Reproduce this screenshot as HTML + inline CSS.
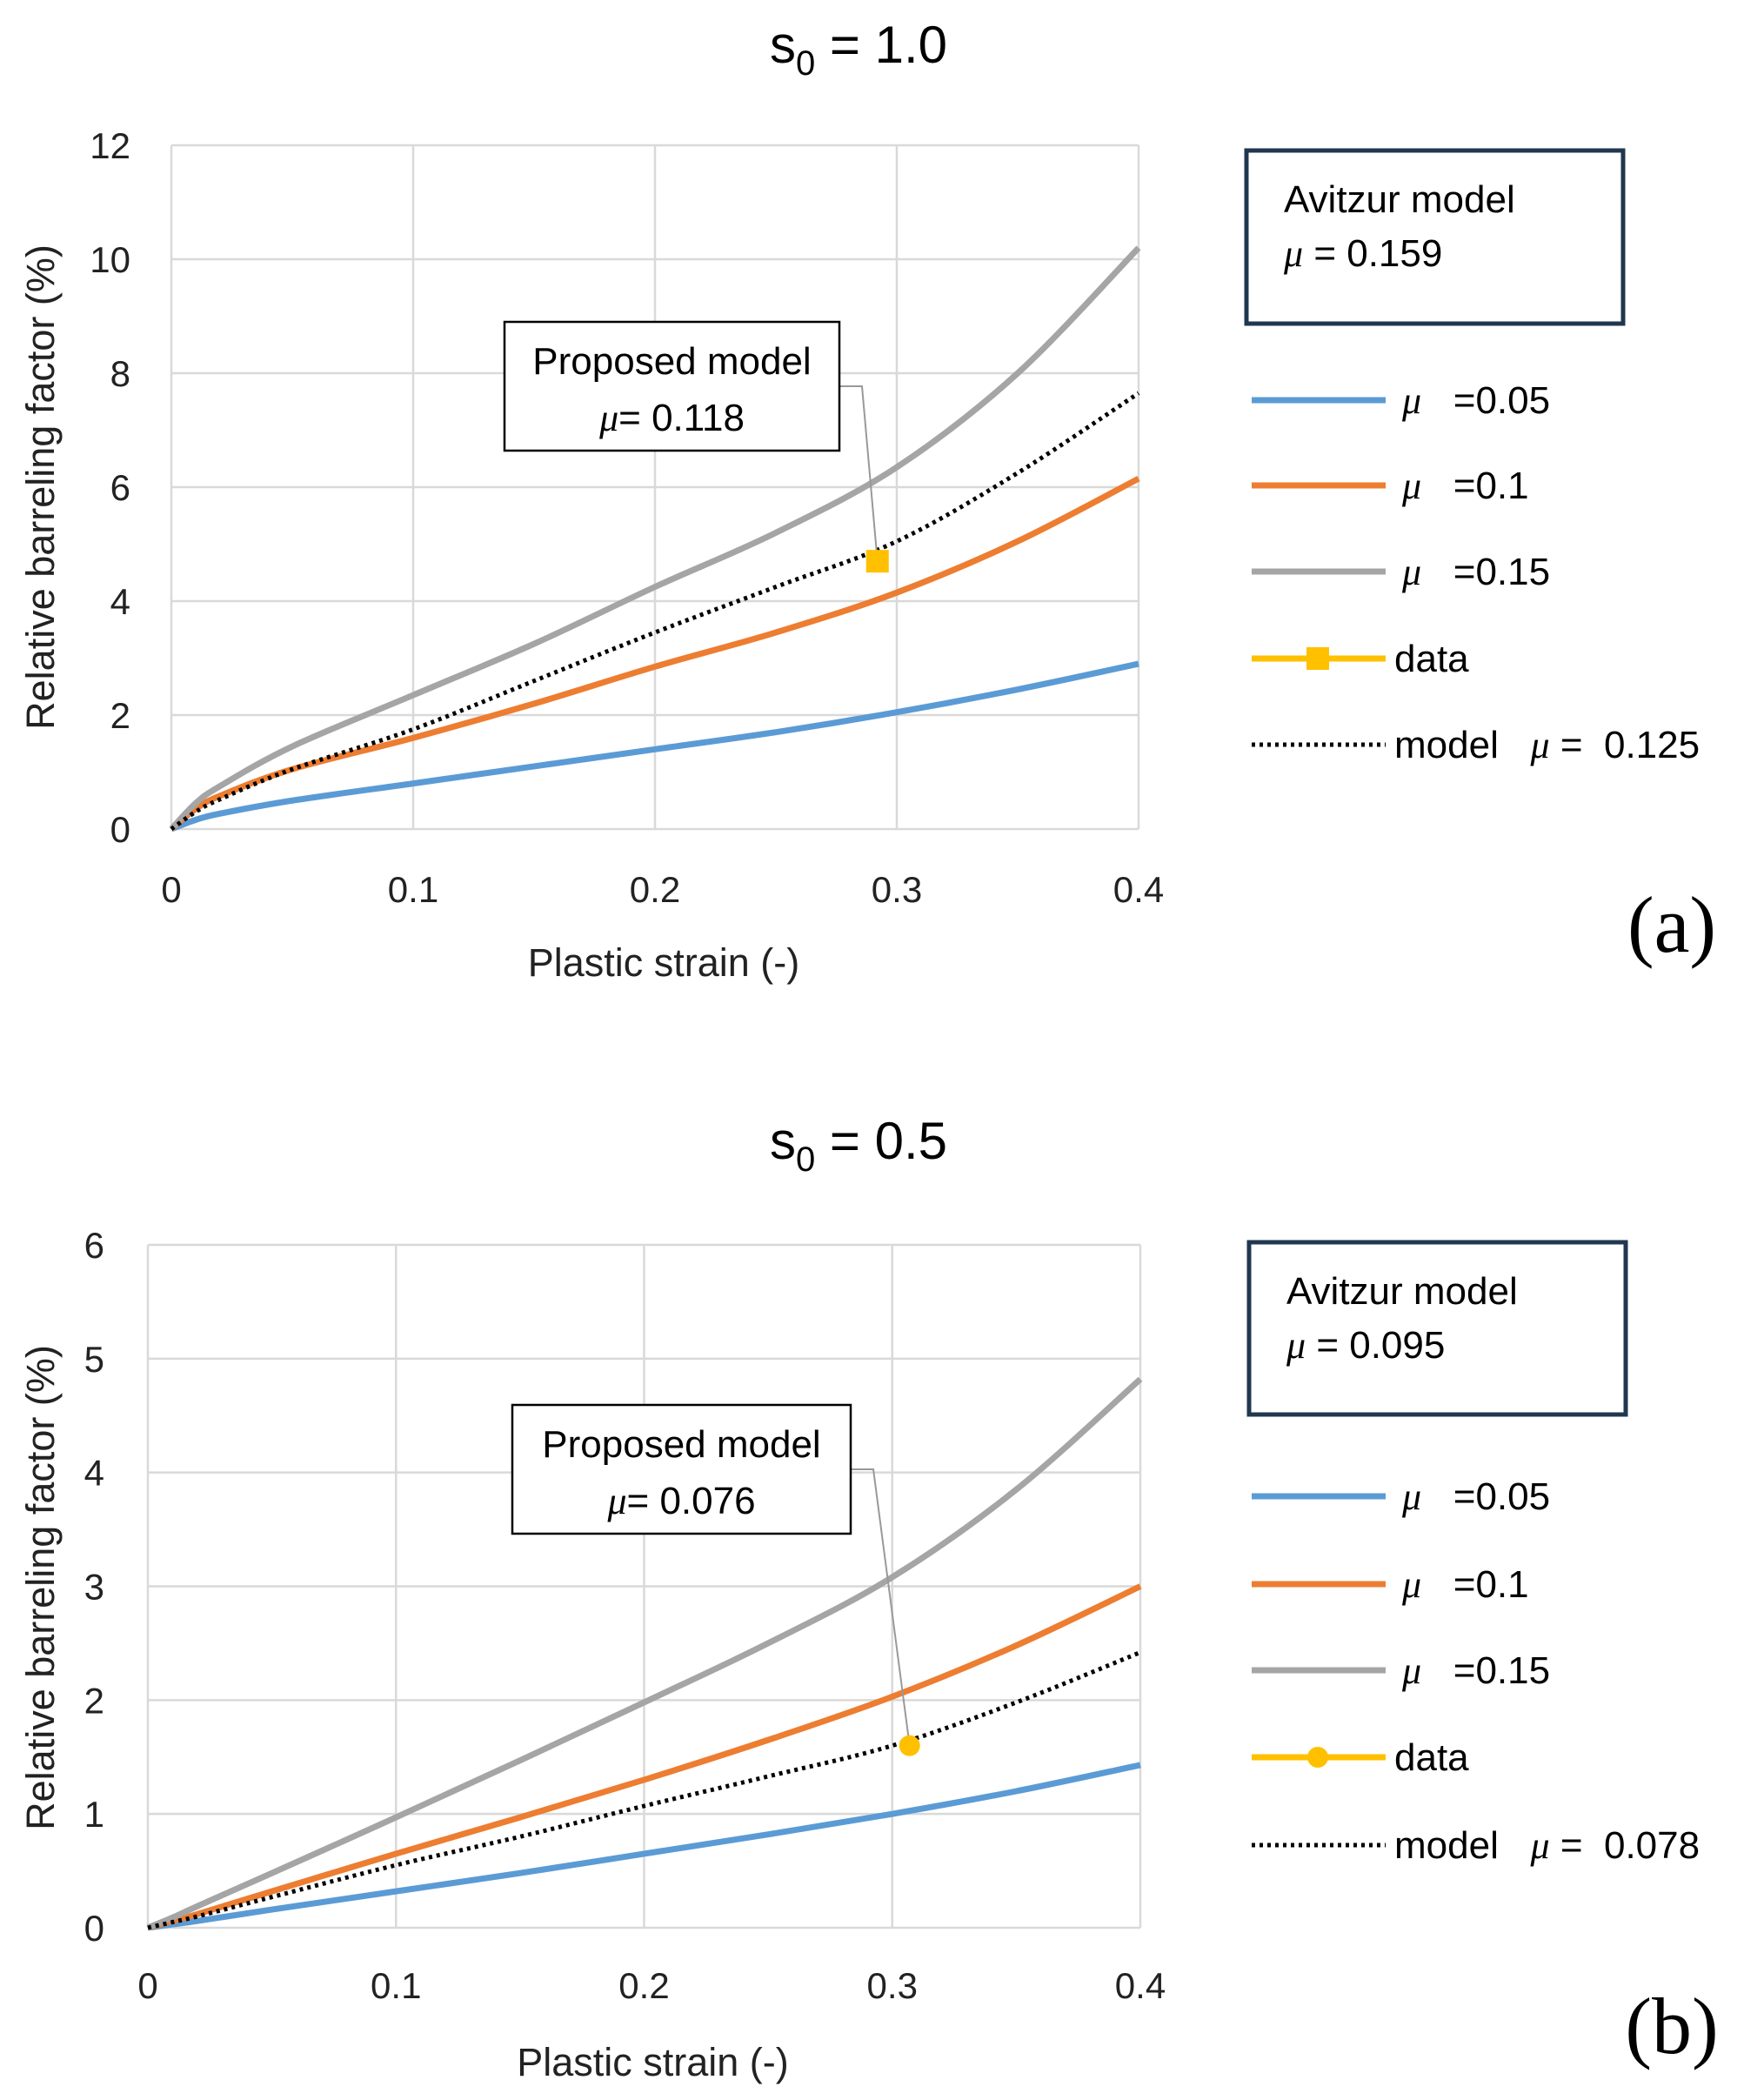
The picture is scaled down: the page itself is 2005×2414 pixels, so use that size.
<!DOCTYPE html>
<html><head><meta charset="utf-8"><style>
body{margin:0;background:#fff}
svg{display:block;font-family:"Liberation Sans",sans-serif}
svg text{white-space:pre}
</style></head><body>
<svg id="svg" width="2005" height="2414" viewBox="0 0 2005 2414" xmlns="http://www.w3.org/2000/svg">
<g id="ga"></g>
<g id="gb"></g>
</svg>
<script>
const xs = [0,0.01,0.02,0.05,0.1,0.15,0.2,0.25,0.3,0.35,0.4];
const xTicks = ["0","0.1","0.2","0.3","0.4"];
const yTicksA = ["0","2","4","6","8","10","12"];
const yTicksB = ["0","1","2","3","4","5","6"];
const blueA = [0,0.16,0.27,0.5,0.8,1.1,1.4,1.7,2.05,2.45,2.9];
const orangeA = [0,0.35,0.58,1.05,1.6,2.2,2.85,3.45,4.15,5.05,6.15];
const grayA = [0,0.45,0.75,1.45,2.35,3.25,4.25,5.2,6.35,8.0,10.2];
const modelA = [0,0.3,0.52,1.05,1.75,2.6,3.45,4.25,5.05,6.25,7.65];
const dataA = [0.292,4.7];
const blueB = [0,0.03,0.06,0.16,0.32,0.48,0.65,0.82,1.0,1.2,1.43];
const orangeB = [0,0.06,0.12,0.32,0.65,0.97,1.3,1.65,2.03,2.48,3.0];
const grayB = [0,0.09,0.19,0.48,0.97,1.47,1.98,2.5,3.08,3.85,4.82];
const modelB = [0,0.05,0.1,0.27,0.55,0.8,1.07,1.33,1.6,1.98,2.42];
const dataB = [0.307,1.6];

const NS="http://www.w3.org/2000/svg";
function mk(parent,tag,attrs,text){const e=document.createElementNS(NS,tag);for(const k in attrs)e.setAttribute(k,attrs[k]);if(text!==undefined)e.textContent=text;parent.appendChild(e);return e;}
function smooth(pts){let d="M"+pts[0][0]+","+pts[0][1];for(let i=0;i<pts.length-1;i++){const p0=pts[Math.max(0,i-1)],p1=pts[i],p2=pts[i+1],p3=pts[Math.min(pts.length-1,i+2)];const c1=[p1[0]+(p2[0]-p0[0])/6,p1[1]+(p2[1]-p0[1])/6],c2=[p2[0]-(p3[0]-p1[0])/6,p2[1]-(p3[1]-p1[1])/6];d+=" C"+c1+" "+c2+" "+p2;}return d;}

function chart(g,cfg){
  const X=v=>cfg.x0+(v/0.4)*(cfg.x1-cfg.x0);
  const Y=v=>cfg.y0-(v/cfg.ymax)*(cfg.y0-cfg.y1);
  let t=mk(g,"text",{x:987,y:cfg.titleY,"font-size":60,"text-anchor":"middle"});
  
  t.appendChild(document.createTextNode("s"));mk(t,"tspan",{"font-size":40,dy:14},"0");mk(t,"tspan",{dy:-14}," = "+cfg.title);
  cfg.yTicks.forEach((lab,i)=>{const v=i*cfg.ymax/(cfg.yTicks.length-1);
    const l=mk(g,"line",{x1:cfg.x0,x2:cfg.x1,y1:Y(v),y2:Y(v),stroke:"#d9d9d9","stroke-width":2.5});
    
    const tx=mk(g,"text",{x:cfg.yLabX,y:Y(v)+15,"font-size":42,"text-anchor":"end",fill:"#222"},lab);
    });
  xTicks.forEach((lab,i)=>{const v=i*0.1;
    const l=mk(g,"line",{x1:X(v),x2:X(v),y1:cfg.y0,y2:cfg.y1,stroke:"#d9d9d9","stroke-width":2.5});
    
    const tx=mk(g,"text",{x:X(v),y:cfg.xLabY,"font-size":42,"text-anchor":"middle",fill:"#222"},lab);
    });
  const yt=mk(g,"text",{x:0,y:0,"font-size":45,"text-anchor":"middle",fill:"#222",transform:`translate(62,${cfg.yTitleY}) rotate(-90)`},"Relative barreling factor (%)");
  
  const xt=mk(g,"text",{x:(cfg.x0+cfg.x1)/2+10,y:cfg.xTitleY,"font-size":45,"text-anchor":"middle",fill:"#222"},"Plastic strain (-)");
  
  const series=[[cfg.blue,"#5B9BD5","line-mu-005"],[cfg.orange,"#ED7D31","line-mu-01"],[cfg.gray,"#A5A5A5","line-mu-015"]];
  series.forEach(([arr,c,n])=>{const p=mk(g,"path",{d:smooth(xs.map((x,i)=>[X(x),Y(arr[i])])),fill:"none",stroke:c,"stroke-width":7});
    });
  const m=mk(g,"path",{d:smooth(xs.map((x,i)=>[X(x),Y(cfg.model[i])])),fill:"none",stroke:"#000","stroke-width":5,"stroke-dasharray":"4 5"});
  
  const b=cfg.box;
  const ld=mk(g,"polyline",{points:`${b[0]+b[2]},${b[1]+b[3]/2} ${b[0]+b[2]+26},${b[1]+b[3]/2} ${X(cfg.data[0])},${Y(cfg.data[1])}`,fill:"none",stroke:"#999","stroke-width":2});
  
  let dm;
  if(cfg.square) dm=mk(g,"rect",{x:X(cfg.data[0])-13,y:Y(cfg.data[1])-13,width:26,height:26,fill:"#FFC000"});
  else dm=mk(g,"circle",{cx:X(cfg.data[0]),cy:Y(cfg.data[1]),r:12,fill:"#FFC000"});
  
  const r=mk(g,"rect",{x:b[0],y:b[1],width:b[2],height:b[3],fill:"#fff",stroke:"#000","stroke-width":2.5});
  
  const cx=b[0]+b[2]/2;
  let a1=mk(g,"text",{x:cx,y:b[1]+60,"font-size":44,"text-anchor":"middle"},"Proposed model");
  
  let a2=mk(g,"text",{x:cx,y:b[1]+125,"font-size":44,"text-anchor":"middle"});
  
  mk(a2,"tspan",{"font-family":"Liberation Serif, serif","font-style":"italic"},"μ");a2.appendChild(document.createTextNode("= "+cfg.pmu));
  const v=cfg.av;
  const ar=mk(g,"rect",{x:v[0],y:v[1],width:v[2],height:v[3],fill:"#fff",stroke:"#203750","stroke-width":5});
  
  let t1=mk(g,"text",{x:v[0]+43,y:v[1]+71,"font-size":44},"Avitzur model");
  
  let t2=mk(g,"text",{x:v[0]+43,y:v[1]+133,"font-size":44});
  
  mk(t2,"tspan",{"font-family":"Liberation Serif, serif","font-style":"italic"},"μ");t2.appendChild(document.createTextNode(" = "+cfg.amu));
  const ents=[["#5B9BD5","=0.05"],["#ED7D31","=0.1"],["#A5A5A5","=0.15"],["#FFC000","data"],["#000","model"]];
  ents.forEach((e,i)=>{const y=cfg.legY[i];
    const lg=mk(g,"g",{});
    if(i<4) mk(lg,"line",{x1:1439,x2:1593,y1:y,y2:y,stroke:e[0],"stroke-width":7});
    else mk(lg,"line",{x1:1439,x2:1593,y1:y,y2:y,stroke:"#000","stroke-width":5,"stroke-dasharray":"4 5"});
    if(i==3){ if(cfg.square) mk(lg,"rect",{x:1502,y:y-13,width:26,height:26,fill:"#FFC000"}); else mk(lg,"circle",{cx:1515,cy:y,r:12,fill:"#FFC000"});}
    if(i<3){const tt=mk(lg,"text",{x:1612,y:y+15,"font-size":44});mk(tt,"tspan",{"font-family":"Liberation Serif, serif","font-style":"italic"},"μ");tt.appendChild(document.createTextNode("   "+e[1]));}
    else if(i==3) mk(lg,"text",{x:1603,y:y+15,"font-size":44},"data");
    else {const tt=mk(lg,"text",{x:1603,y:y+15,"font-size":44},"model   ");mk(tt,"tspan",{"font-family":"Liberation Serif, serif","font-style":"italic"},"μ");tt.appendChild(document.createTextNode(" =  "+cfg.mmu));}
  });
  const lb=mk(g,"text",{x:1922,y:cfg.labY,"font-size":92,"text-anchor":"middle","font-family":"Liberation Serif, serif"},cfg.lab);
  
}
chart(document.getElementById("ga"),{x0:197,x1:1309,y0:953,y1:167,ymax:12,yTicks:yTicksA,title:"1.0",titleY:72,yLabX:150,xLabY:1037,yTitleY:560,xTitleY:1122,
  blue:blueA,orange:orangeA,gray:grayA,model:modelA,data:dataA,square:true,box:[580,370,385,148],pmu:"0.118",av:[1433,173,433,199],amu:"0.159",
  legY:[460,558,657,757,856],mmu:"0.125",lab:"(a)",labY:1094});
chart(document.getElementById("gb"),{x0:170,x1:1311,y0:2216,y1:1431,ymax:6,yTicks:yTicksB,title:"0.5",titleY:1332,yLabX:120,xLabY:2297,yTitleY:1825,xTitleY:2386,
  blue:blueB,orange:orangeB,gray:grayB,model:modelB,data:dataB,square:false,box:[589,1615,389,148],pmu:"0.076",av:[1436,1428,433,198],amu:"0.095",
  legY:[1720,1821,1920,2020,2121],mmu:"0.078",lab:"(b)",labY:2360});
</script>
</body></html>
